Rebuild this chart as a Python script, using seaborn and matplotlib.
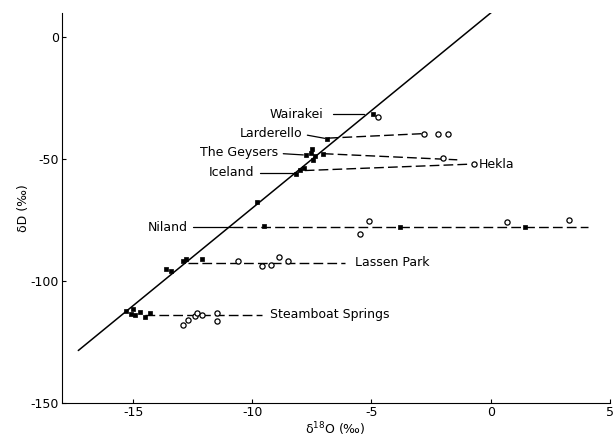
import seaborn as sns
import matplotlib.pyplot as plt
import pandas as pd

# meteoric water line end points
mwl_x = [-17.3, 0.1]
mwl_y = [-128.4, 10.8]

# local meteoric waters (filled)
wairakei_fx, wairakei_fy = [-4.94], [-31.5]
larderello_fx, larderello_fy = [-6.87], [-41.5]
geysers_fx = [-7.73, -7.53, -7.36, -7.45, -7.48, -7.04]
geysers_fy = [-48.2, -47.3, -48.6, -50.4, -45.9, -47.7]
iceland_fx = [-8.18, -7.99, -7.82, -9.8]
iceland_fy = [-56.2, -54.5, -53.4, -67.5]
niland_fx, niland_fy = [-9.5, -3.8, 1.44], [-77.4, -77.8, -77.8]
lassen_fx = [-12.9, -12.8, -12.1, -13.4, -13.6]
lassen_fy = [-91.8, -91.0, -90.8, -95.9, -95.0]
steamboat_fx = [-15.3, -15.1, -15.0, -14.9, -14.7, -14.5, -14.3]
steamboat_fy = [-112.0, -113.5, -111.5, -114.0, -112.5, -114.5, -113.0]

# thermal waters (open)
wairakei_ox, wairakei_oy = [-4.71], [-32.6]
larderello_ox, larderello_oy = [-2.78, -2.2, -1.8], [-39.5, -39.5, -39.7]
geysers_ox, geysers_oy = [-2.0], [-49.3]
hekla_ox, hekla_oy = [-0.7], [-51.9]
niland_ox = [-5.5, -5.1, 0.69, 3.3]
niland_oy = [-80.8, -75.3, -75.6, -74.9]
lassen_ox = [-10.6, -9.6, -9.2, -8.9, -8.5]
lassen_oy = [-91.5, -93.8, -93.2, -90.1, -91.8]
steamboat_ox = [-12.9, -12.7, -12.4, -12.3, -12.1, -11.5, -11.5]
steamboat_oy = [-117.8, -115.8, -114.4, -113.0, -113.7, -116.4, -113.0]

# dashed trends (start, end)
larderello_dx, larderello_dy = [-6.8, -2.9], [-41.3, -39.5]
geysers_dx, geysers_dy = [-7.0, -1.4], [-47.7, -50.2]
iceland_dx, iceland_dy = [-7.8, -0.9], [-54.6, -52.0]
niland_dx, niland_dy = [-10.8, 4.1], [-77.8, -77.8]
lassen_dx, lassen_dy = [-12.7, -6.1], [-92.5, -92.5]
steamboat_dx, steamboat_dy = [-14.5, -9.6], [-113.7, -113.7]

# labels: text, x, y, align, leader x
labels = ["Wairakei", "Larderello", "The Geysers", "Iceland", "Niland",
          "Lassen Park", "Steamboat Springs", "Hekla"]
label_x = [-7.0, -7.9, -8.9, -9.9, -12.7, -5.7, -9.25, -0.5]
label_y = [-31.5, -39.3, -47.4, -55.6, -78.0, -92.5, -113.7, -52.0]
label_ha = ["right", "right", "right", "right", "right", "left", "left", "left"]
leader_x = [[-6.63, -5.3], [-7.69, -6.96], [-8.7, -7.86], [-9.66, -8.27], [-12.5, -10.8]]
leader_y = [[-31.5, -31.5], [-40.1, -41.4], [-47.7, -48.2], [-55.5, -55.5], [-77.8, -77.8]]

filled = pd.DataFrame({
    "x": wairakei_fx + larderello_fx + geysers_fx + iceland_fx + niland_fx + lassen_fx + steamboat_fx,
    "y": wairakei_fy + larderello_fy + geysers_fy + iceland_fy + niland_fy + lassen_fy + steamboat_fy,
})
opened = pd.DataFrame({
    "x": wairakei_ox + larderello_ox + geysers_ox + hekla_ox + niland_ox + lassen_ox + steamboat_ox,
    "y": wairakei_oy + larderello_oy + geysers_oy + hekla_oy + niland_oy + lassen_oy + steamboat_oy,
})

sns.set_style("ticks", {"axes.edgecolor": "black", "text.color": "black",
                        "axes.labelcolor": "black", "xtick.color": "black",
                        "ytick.color": "black"})
plt.rcParams["axes.unicode_minus"] = False
plt.rcParams["font.family"] = ["DejaVu Sans"]

fig, ax = plt.subplots(figsize=(6.16, 4.48), dpi=100)
fig.subplots_adjust(left=0.10, right=0.99, bottom=0.10, top=0.971)

ax.plot(mwl_x, mwl_y, color="black", lw=1.1)

for dx, dy in [(larderello_dx, larderello_dy), (geysers_dx, geysers_dy), (iceland_dx, iceland_dy),
               (niland_dx, niland_dy), (lassen_dx, lassen_dy), (steamboat_dx, steamboat_dy)]:
    ax.plot(dx, dy, color="black", lw=1.0, ls=(0, (7, 3)))
for lx, ly in zip(leader_x, leader_y):
    ax.plot(lx, ly, color="black", lw=0.9)

sns.scatterplot(data=filled, x="x", y="y", ax=ax, color="black", marker="s", s=12,
                edgecolor="black", linewidth=0.5, zorder=3)
sns.scatterplot(data=opened, x="x", y="y", ax=ax, color="white", marker="o", s=14,
                edgecolor="black", linewidth=0.9, zorder=3)

for t, x, y, ha in zip(labels, label_x, label_y, label_ha):
    ax.text(x, y, t, ha=ha, va="center", fontsize=9, color="black")

ax.set_xlim(-18, 5)
ax.set_ylim(-150, 10)
ax.set_xticks([-15, -10, -5, 0, 5])
ax.set_yticks([-150, -100, -50, 0])
ax.tick_params(direction="in", length=3, labelsize=9, pad=2)
ax.set_xlabel("δ$^{18}$O (‰)", fontsize=9, labelpad=1)
ax.set_ylabel("δD (‰)", fontsize=9, labelpad=0)
sns.despine(ax=ax)

plt.savefig("out.png", dpi=100)
